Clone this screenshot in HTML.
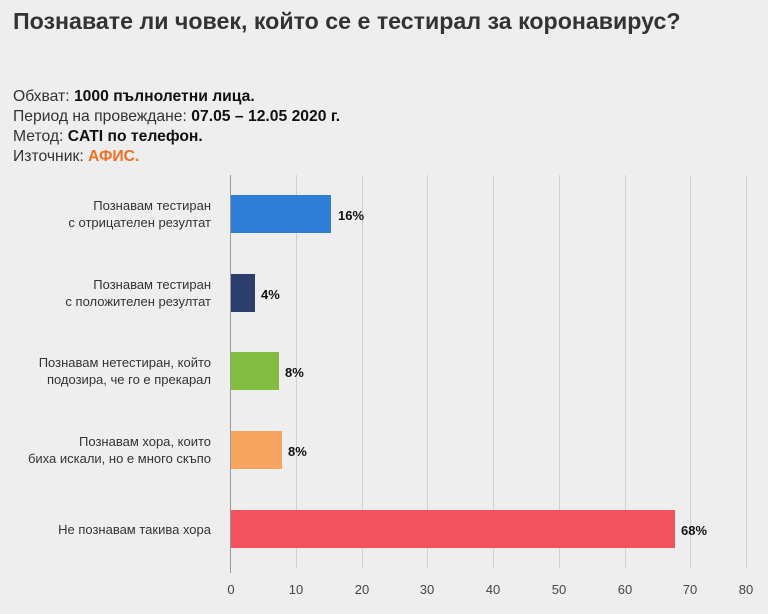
<!DOCTYPE html><html><head><meta charset="utf-8"><style>
body{margin:0;width:768px;height:614px;background:#eeeeee;font-family:"Liberation Sans",sans-serif;position:relative;overflow:hidden;color:#333}
.a{position:absolute}
.t{left:13px;top:8px;font-size:23.2px;font-weight:bold;color:#333;white-space:nowrap}
.m{left:13px;font-size:15.7px;color:#333;line-height:20px;white-space:nowrap}
.m b{color:#111}
.g{width:1px;background:#d0d0d0;top:175px;height:393px}
.bar{left:231px;height:38px}
.lab{right:557px;text-align:right;font-size:13px;line-height:17px;color:#333}
.v{font-size:13px;font-weight:bold;color:#111}
.x{top:582px;font-size:13px;color:#444;width:30px;text-align:center;margin-left:-15px}
</style></head><body>
<div class="a t">Познавате ли човек, който се е тестирал за коронавирус?</div>
<div class="a m" style="top:87px">Обхват: <b>1000 пълнолетни лица.</b><br>Период на провеждане: <b>07.05 – 12.05 2020 г.</b><br>Метод: <b>CATI по телефон.</b><br>Източник: <b style="color:#f07020">АФИС.</b></div>
<div class="a g" style="left:296px"></div><div class="a g" style="left:362px"></div><div class="a g" style="left:427px"></div><div class="a g" style="left:493px"></div><div class="a g" style="left:559px"></div><div class="a g" style="left:625px"></div><div class="a g" style="left:690px"></div><div class="a g" style="left:746px"></div>
<div class="a" style="left:230px;top:175px;width:1px;height:398px;background:#999"></div>
<div class="a bar" style="top:195px;width:100px;background:#2f7fd8"></div>
<div class="a bar" style="top:274px;width:24px;background:#2c3e6b"></div>
<div class="a bar" style="top:352px;width:48px;background:#82bd41"></div>
<div class="a bar" style="top:431px;width:51px;background:#f7a45e"></div>
<div class="a bar" style="top:510px;width:444px;background:#f2525e"></div>
<div class="a v" style="left:338px;top:208px">16%</div>
<div class="a v" style="left:261px;top:287px">4%</div>
<div class="a v" style="left:285px;top:365px">8%</div>
<div class="a v" style="left:288px;top:444px">8%</div>
<div class="a v" style="left:681px;top:523px">68%</div>
<div class="a lab" style="top:197px">Познавам тестиран<br>с отрицателен резултат</div>
<div class="a lab" style="top:276px">Познавам тестиран<br>с положителен резултат</div>
<div class="a lab" style="top:354px">Познавам нетестиран, който<br>подозира, че го е прекарал</div>
<div class="a lab" style="top:433px">Познавам хора, които<br>биха искали, но е много скъпо</div>
<div class="a lab" style="top:521px">Не познавам такива хора</div>
<div class="a x" style="left:231px">0</div><div class="a x" style="left:296px">10</div><div class="a x" style="left:362px">20</div><div class="a x" style="left:427px">30</div><div class="a x" style="left:493px">40</div><div class="a x" style="left:559px">50</div><div class="a x" style="left:625px">60</div><div class="a x" style="left:690px">70</div><div class="a x" style="left:746px">80</div>
</body></html>
